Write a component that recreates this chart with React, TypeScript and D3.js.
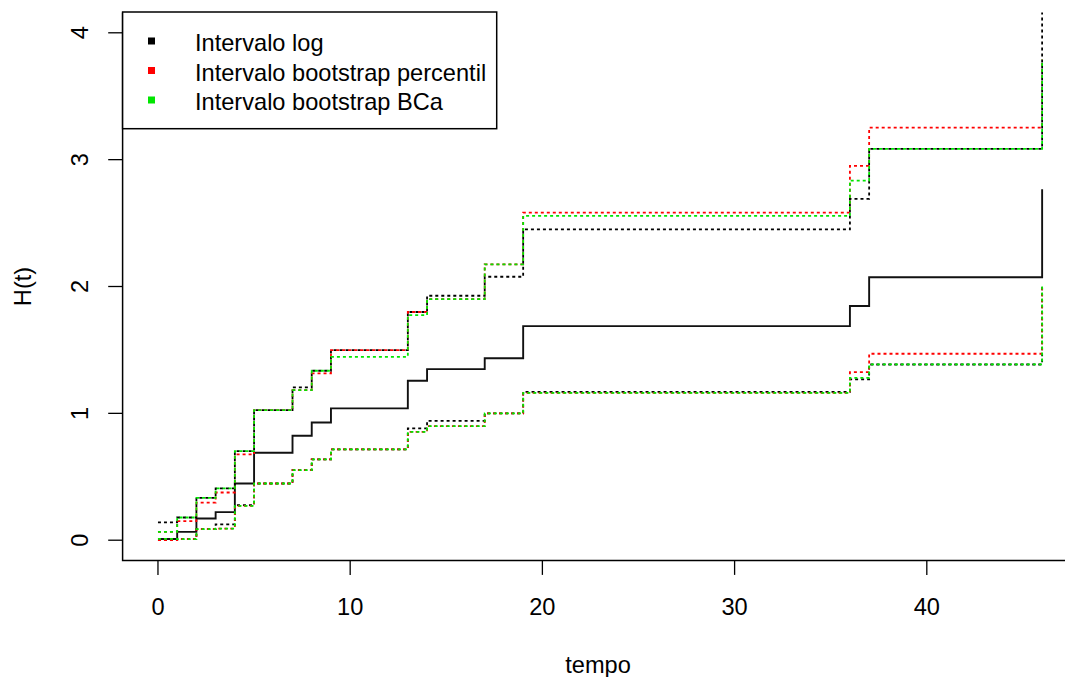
import React from "react";
import * as d3 from "d3";

// Event times (tempo) for the cumulative hazard step functions
const times = [0, 1, 2, 3, 4, 5, 7, 8, 9, 13, 14, 17, 19, 36, 37, 46];

// Nelson-Aalen style estimate H(t)
const hEstimate = [0.01, 0.066, 0.171, 0.221, 0.447, 0.689, 0.823, 0.928, 1.039, 1.257, 1.349, 1.434, 1.688, 1.846, 2.073, 2.767];

// Log-transformed interval
const logUpper = [0.14, 0.179, 0.334, 0.408, 0.702, 1.026, 1.205, 1.336, 1.499, 1.799, 1.927, 2.077, 2.45, 2.69, 3.085, 4.6];
const logLower = [0.0, 0.008, 0.087, 0.124, 0.276, 0.447, 0.552, 0.637, 0.716, 0.881, 0.941, 1.0, 1.17, 1.268, 1.385, 2.01];

// Bootstrap percentile interval
const pctUpper = [0.066, 0.15, 0.297, 0.376, 0.676, 1.026, 1.183, 1.315, 1.499, 1.799, 1.901, 2.175, 2.582, 2.951, 3.253, 3.787];
const pctLower = [0.0, 0.008, 0.087, 0.092, 0.27, 0.447, 0.552, 0.637, 0.716, 0.854, 0.899, 1.0, 1.162, 1.325, 1.47, 2.012];

// Bootstrap BCa interval
const bcaUpper = [0.066, 0.179, 0.334, 0.408, 0.702, 1.026, 1.183, 1.336, 1.446, 1.775, 1.901, 2.175, 2.556, 2.835, 3.085, 3.787];
const bcaLower = [0.01, 0.008, 0.087, 0.092, 0.27, 0.447, 0.552, 0.637, 0.716, 0.854, 0.899, 1.0, 1.162, 1.28, 1.386, 2.012];

const xTicks = [0, 10, 20, 30, 40];
const yTicks = [0, 1, 2, 3, 4];

const legendLabels = ["Intervalo log", "Intervalo bootstrap percentil", "Intervalo bootstrap BCa"];
const legendColors = ["#000000", "#ff0000", "#00e600"];

const W = 1065;
const H = 677;
const plot = { left: 122.6, right: 1077.5, top: 12.5, bottom: 560.5 };
const FONT = "'Liberation Sans', Arial, Helvetica, sans-serif";
const FS = 23.6;

export default function App() {
  const x = d3.scaleLinear().domain([-1.84, 47.84]).range([plot.left, plot.right]);
  const y = d3.scaleLinear().domain([-0.16, 4.16]).range([plot.bottom, plot.top]);

  const step = d3
    .line<[number, number]>()
    .x((d) => x(d[0]))
    .y((d) => y(d[1]))
    .curve(d3.curveStepAfter);

  const pathOf = (vals: number[]) => step(times.map((t, i) => [t, vals[i]] as [number, number])) || "";

  const series = [
    { vals: logUpper, color: legendColors[0] },
    { vals: logLower, color: legendColors[0] },
    { vals: pctUpper, color: legendColors[1] },
    { vals: pctLower, color: legendColors[1] },
    { vals: bcaUpper, color: legendColors[2] },
    { vals: bcaLower, color: legendColors[2] },
  ];

  const tickLen = 14.4;
  const legend = { x0: plot.left, y0: plot.top - 0.5, x1: 496.7, y1: 128.7 };

  return (
    <svg
      width={W}
      height={H}
      viewBox={`0 0 ${W} ${H}`}
      style={{ position: "absolute", left: 0, top: 0, background: "#fff" }}
      fontFamily={FONT}
    >
      <defs>
        <clipPath id="plotClip">
          <rect x={plot.left} y={plot.top} width={plot.right - plot.left} height={plot.bottom - plot.top} />
        </clipPath>
      </defs>
      <rect x={0} y={0} width={W} height={H} fill="#fff" />

      <g clipPath="url(#plotClip)" fill="none">
        <path d={pathOf(hEstimate)} stroke="#111" strokeWidth={1.9} />
        {series.map((s, i) => (
          <path key={i} d={pathOf(s.vals)} stroke={s.color} strokeWidth={1.8} strokeDasharray="3 3" />
        ))}
      </g>

      {/* L-shaped box */}
      <path
        d={`M${plot.left},${plot.top} V${plot.bottom} H${plot.right}`}
        fill="none"
        stroke="#000"
        strokeWidth={1.5}
      />

      {/* x axis */}
      {xTicks.map((t) => (
        <g key={`xt${t}`}>
          <line x1={x(t)} x2={x(t)} y1={plot.bottom} y2={plot.bottom + tickLen} stroke="#000" strokeWidth={1.3} />
          <text x={x(t)} y={607} fontSize={FS} textAnchor="middle" dominantBaseline="central" fill="#000">
            {t}
          </text>
        </g>
      ))}
      <text x={(plot.left + plot.right) / 2 - 2} y={665} fontSize={FS} textAnchor="middle" dominantBaseline="central" fill="#000">
        tempo
      </text>

      {/* y axis */}
      {yTicks.map((t) => (
        <g key={`yt${t}`}>
          <line x1={plot.left - tickLen} x2={plot.left} y1={y(t)} y2={y(t)} stroke="#000" strokeWidth={1.3} />
          <text
            transform={`translate(80,${y(t)}) rotate(-90)`}
            fontSize={FS}
            textAnchor="middle"
            dominantBaseline="central"
            fill="#000"
          >
            {t}
          </text>
        </g>
      ))}
      <text
        transform={`translate(23,${(plot.top + plot.bottom) / 2}) rotate(-90)`}
        fontSize={FS}
        textAnchor="middle"
        dominantBaseline="central"
        fill="#000"
      >
        H(t)
      </text>

      {/* legend */}
      <rect
        x={legend.x0}
        y={legend.y0}
        width={legend.x1 - legend.x0}
        height={legend.y1 - legend.y0}
        fill="#fff"
        stroke="#000"
        strokeWidth={1.5}
      />
      {legendLabels.map((lab, i) => {
        const cy = 41 + i * 29.5;
        return (
          <g key={lab}>
            <rect x={148} y={cy - 3.5} width={7} height={7} fill={legendColors[i]} />
            <text x={195} y={cy + 2} fontSize={FS} dominantBaseline="central" fill="#000">
              {lab}
            </text>
          </g>
        );
      })}
    </svg>
  );
}
